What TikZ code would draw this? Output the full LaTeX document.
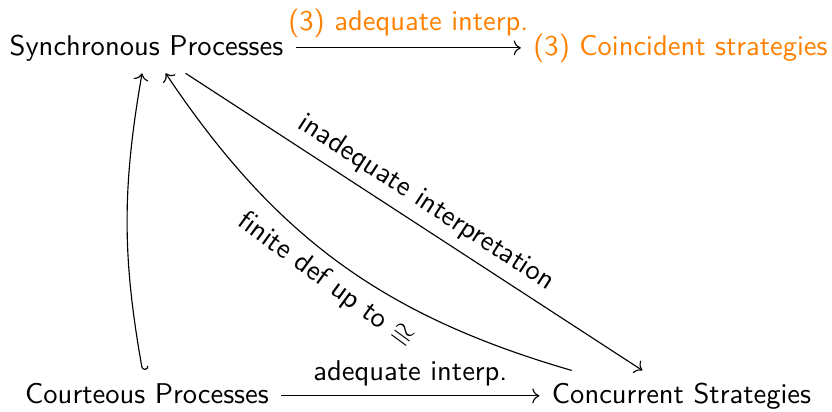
\documentclass[tikz,border=0pt]{standalone}
\usetikzlibrary{arrows.meta}
\begin{document}
\begin{tikzpicture}[x=0.35pt,y=0.35pt,
  obj/.style={font=\sffamily, inner sep=4.2pt, text height=7pt, text depth=2pt, anchor=base},
  lbl/.style={font=\sffamily, inner sep=3.3pt},
  arr/.style={-{Computer Modern Rightarrow}},
  hookarr/.style={{Hooks[left]}-{Computer Modern Rightarrow}}]
\useasboundingbox (0,0) rectangle (832,411);
\node[obj] (sync) at (146.5,356) {Synchronous Processes};
\node[obj, text=orange] (coin) at (680.5,356) {(3) Coincident strategies};
\node[obj] (cour) at (147,8) {Courteous Processes};
\node[obj] (conc) at (681.5,8) {Concurrent Strategies};
\draw[arr] (sync) -- node[lbl, above, text=orange] {(3) adequate interp.} (coin);
\draw[arr] (cour) -- node[lbl, above] {adequate interp.} (conc);
\draw[hookarr] (cour) to[bend left=10] (sync);
\draw[arr] (sync) -- node[lbl, pos=0.5, above, sloped] {inadequate interpretation} (conc);
\draw[{Computer Modern Rightarrow}-] (sync) to[bend right=20] node[lbl, midway, below, sloped] {finite def up to $\cong$} (conc);
\end{tikzpicture}
\end{document}
